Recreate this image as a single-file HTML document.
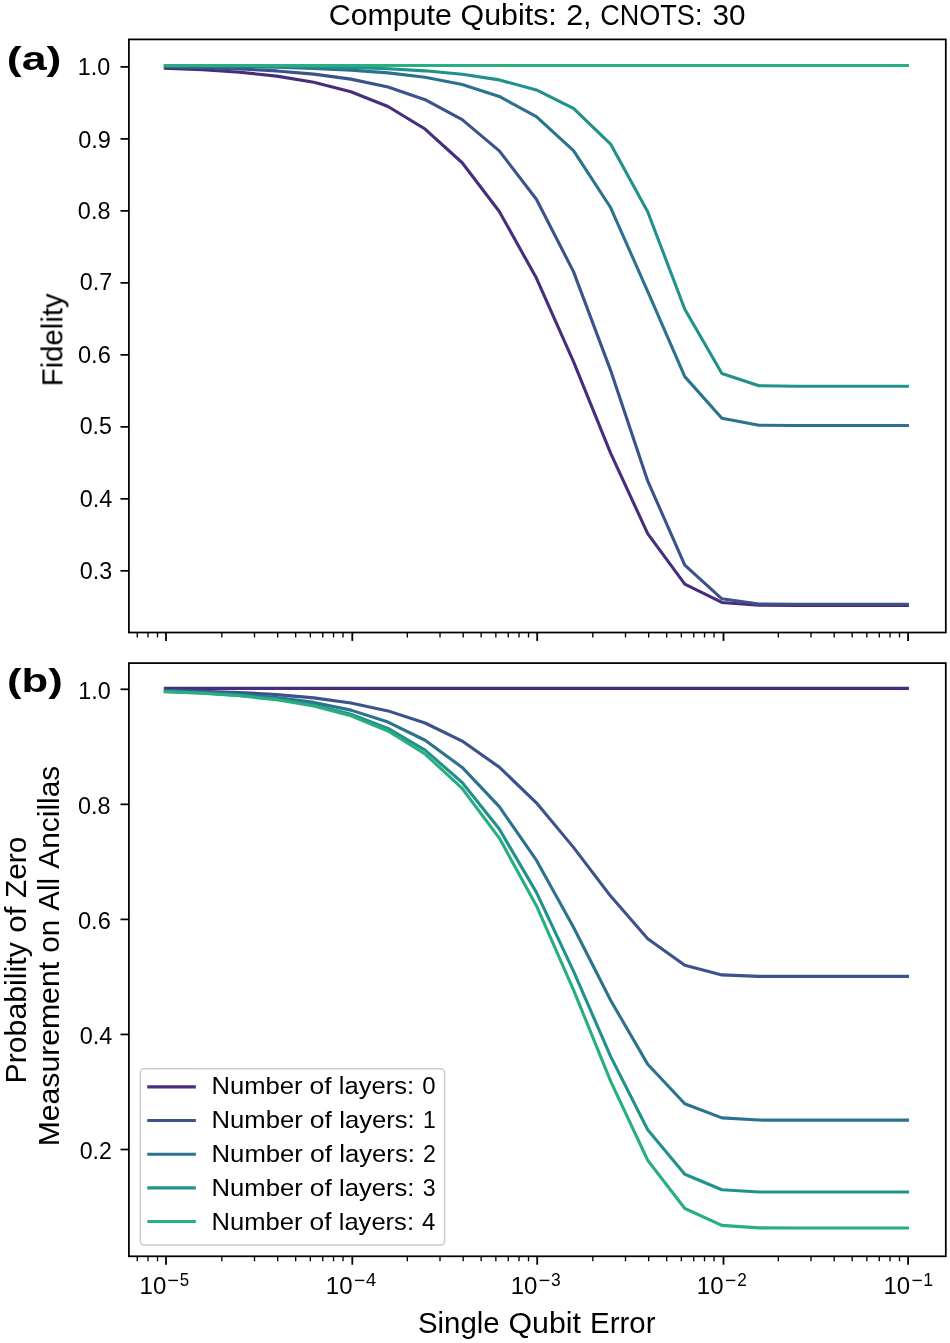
<!DOCTYPE html>
<html><head><meta charset="utf-8"><style>
html,body{margin:0;padding:0;background:#fff;width:950px;height:1343px;overflow:hidden}
svg{display:block}
</style></head><body>
<svg width="950" height="1343" viewBox="0 0 950 1343" font-family="Liberation Sans, sans-serif">
<rect width="950" height="1343" fill="#fff"/>
<path d="M165.40,68.18 L202.50,69.75 L239.60,72.21 L276.70,76.10 L313.80,82.21 L350.90,91.74 L388.00,106.50 L425.10,129.05 L462.20,162.76 L499.30,211.44 L536.40,278.03 L573.50,361.59 L610.60,453.06 L647.70,533.68 L684.80,584.11 L721.90,602.46 L759.00,605.31 L796.10,605.42 L833.20,605.42 L870.30,605.42 L907.40,605.42" fill="none" stroke="#472d7b" stroke-width="3.1" stroke-linejoin="round" stroke-linecap="square"/>
<path d="M165.40,66.86 L202.50,67.66 L239.60,68.92 L276.70,70.92 L313.80,74.09 L350.90,79.11 L388.00,87.06 L425.10,99.66 L462.20,119.57 L499.30,150.85 L536.40,199.29 L573.50,271.60 L610.60,370.35 L647.70,480.96 L684.80,565.06 L721.90,598.79 L759.00,604.07 L796.10,604.27 L833.20,604.27 L870.30,604.27 L907.40,604.27" fill="none" stroke="#3b528b" stroke-width="3.1" stroke-linejoin="round" stroke-linecap="square"/>
<path d="M165.40,65.96 L202.50,66.22 L239.60,66.65 L276.70,67.32 L313.80,68.39 L350.90,70.10 L388.00,72.85 L425.10,77.29 L462.20,84.52 L499.30,96.46 L536.40,116.53 L573.50,150.63 L610.60,207.51 L647.70,291.37 L684.80,376.61 L721.90,418.20 L759.00,425.18 L796.10,425.45 L833.20,425.45 L870.30,425.45 L907.40,425.45" fill="none" stroke="#2c728e" stroke-width="3.1" stroke-linejoin="round" stroke-linecap="square"/>
<path d="M165.40,65.70 L202.50,65.82 L239.60,66.01 L276.70,66.31 L313.80,66.79 L350.90,67.56 L388.00,68.80 L425.10,70.83 L462.20,74.18 L499.30,79.88 L536.40,89.91 L573.50,108.40 L610.60,144.11 L647.70,211.77 L684.80,309.19 L721.90,373.43 L759.00,385.72 L796.10,386.21 L833.20,386.22 L870.30,386.22 L907.40,386.22" fill="none" stroke="#21918c" stroke-width="3.1" stroke-linejoin="round" stroke-linecap="square"/>
<path d="M165.40,65.50 L202.50,65.50 L239.60,65.50 L276.70,65.50 L313.80,65.50 L350.90,65.50 L388.00,65.50 L425.10,65.50 L462.20,65.50 L499.30,65.50 L536.40,65.50 L573.50,65.50 L610.60,65.50 L647.70,65.50 L684.80,65.50 L721.90,65.50 L759.00,65.50 L796.10,65.50 L833.20,65.50 L870.30,65.50 L907.40,65.50" fill="none" stroke="#28ae80" stroke-width="3.1" stroke-linejoin="round" stroke-linecap="square"/>
<path d="M165.40,688.40 L202.50,688.40 L239.60,688.40 L276.70,688.40 L313.80,688.40 L350.90,688.40 L388.00,688.40 L425.10,688.40 L462.20,688.40 L499.30,688.40 L536.40,688.40 L573.50,688.40 L610.60,688.40 L647.70,688.40 L684.80,688.40 L721.90,688.40 L759.00,688.40 L796.10,688.40 L833.20,688.40 L870.30,688.40 L907.40,688.40" fill="none" stroke="#472d7b" stroke-width="3.1" stroke-linejoin="round" stroke-linecap="square"/>
<path d="M165.40,690.34 L202.50,691.18 L239.60,692.50 L276.70,694.59 L313.80,697.87 L350.90,702.98 L388.00,710.90 L425.10,723.00 L462.20,741.06 L499.30,767.14 L536.40,802.76 L573.50,847.38 L610.60,896.08 L647.70,938.80 L684.80,965.33 L721.90,974.89 L759.00,976.34 L796.10,976.40 L833.20,976.40 L870.30,976.40 L907.40,976.40" fill="none" stroke="#3b528b" stroke-width="3.1" stroke-linejoin="round" stroke-linecap="square"/>
<path d="M165.40,691.07 L202.50,692.33 L239.60,694.33 L276.70,697.47 L313.80,702.40 L350.90,710.11 L388.00,722.03 L425.10,740.24 L462.20,767.43 L499.30,806.65 L536.40,860.21 L573.50,927.24 L610.60,1000.27 L647.70,1064.20 L684.80,1103.76 L721.90,1117.92 L759.00,1120.07 L796.10,1120.15 L833.20,1120.15 L870.30,1120.15 L907.40,1120.15" fill="none" stroke="#2c728e" stroke-width="3.1" stroke-linejoin="round" stroke-linecap="square"/>
<path d="M165.40,691.49 L202.50,693.00 L239.60,695.38 L276.70,699.13 L313.80,705.02 L350.90,714.21 L388.00,728.43 L425.10,750.13 L462.20,782.48 L499.30,829.04 L536.40,892.39 L573.50,971.20 L610.60,1056.33 L647.70,1129.80 L684.80,1174.30 L721.90,1189.72 L759.00,1191.95 L796.10,1192.02 L833.20,1192.02 L870.30,1192.03 L907.40,1192.03" fill="none" stroke="#21918c" stroke-width="3.1" stroke-linejoin="round" stroke-linecap="square"/>
<path d="M165.40,691.65 L202.50,693.26 L239.60,695.79 L276.70,699.78 L313.80,706.04 L350.90,715.82 L388.00,730.94 L425.10,754.02 L462.20,788.46 L499.30,838.07 L536.40,905.63 L573.50,989.86 L610.60,1081.10 L647.70,1160.22 L684.80,1208.49 L721.90,1225.39 L759.00,1227.87 L796.10,1227.96 L833.20,1227.96 L870.30,1227.96 L907.40,1227.96" fill="none" stroke="#28ae80" stroke-width="3.1" stroke-linejoin="round" stroke-linecap="square"/>
<rect x="128.9" y="39.4" width="816.9" height="593.1" fill="none" stroke="#000" stroke-width="1.75" stroke-linejoin="miter"/>
<rect x="128.9" y="663.1" width="816.9" height="593.1999999999999" fill="none" stroke="#000" stroke-width="1.75" stroke-linejoin="miter"/>
<line x1="137.27" y1="632.5" x2="137.27" y2="637.5" stroke="#000" stroke-width="1.35"/>
<line x1="148.02" y1="632.5" x2="148.02" y2="637.5" stroke="#000" stroke-width="1.35"/>
<line x1="157.51" y1="632.5" x2="157.51" y2="637.5" stroke="#000" stroke-width="1.35"/>
<line x1="221.84" y1="632.5" x2="221.84" y2="637.5" stroke="#000" stroke-width="1.35"/>
<line x1="254.51" y1="632.5" x2="254.51" y2="637.5" stroke="#000" stroke-width="1.35"/>
<line x1="277.68" y1="632.5" x2="277.68" y2="637.5" stroke="#000" stroke-width="1.35"/>
<line x1="295.66" y1="632.5" x2="295.66" y2="637.5" stroke="#000" stroke-width="1.35"/>
<line x1="310.35" y1="632.5" x2="310.35" y2="637.5" stroke="#000" stroke-width="1.35"/>
<line x1="322.77" y1="632.5" x2="322.77" y2="637.5" stroke="#000" stroke-width="1.35"/>
<line x1="333.52" y1="632.5" x2="333.52" y2="637.5" stroke="#000" stroke-width="1.35"/>
<line x1="343.01" y1="632.5" x2="343.01" y2="637.5" stroke="#000" stroke-width="1.35"/>
<line x1="407.34" y1="632.5" x2="407.34" y2="637.5" stroke="#000" stroke-width="1.35"/>
<line x1="440.01" y1="632.5" x2="440.01" y2="637.5" stroke="#000" stroke-width="1.35"/>
<line x1="463.18" y1="632.5" x2="463.18" y2="637.5" stroke="#000" stroke-width="1.35"/>
<line x1="481.16" y1="632.5" x2="481.16" y2="637.5" stroke="#000" stroke-width="1.35"/>
<line x1="495.85" y1="632.5" x2="495.85" y2="637.5" stroke="#000" stroke-width="1.35"/>
<line x1="508.27" y1="632.5" x2="508.27" y2="637.5" stroke="#000" stroke-width="1.35"/>
<line x1="519.02" y1="632.5" x2="519.02" y2="637.5" stroke="#000" stroke-width="1.35"/>
<line x1="528.51" y1="632.5" x2="528.51" y2="637.5" stroke="#000" stroke-width="1.35"/>
<line x1="592.84" y1="632.5" x2="592.84" y2="637.5" stroke="#000" stroke-width="1.35"/>
<line x1="625.51" y1="632.5" x2="625.51" y2="637.5" stroke="#000" stroke-width="1.35"/>
<line x1="648.68" y1="632.5" x2="648.68" y2="637.5" stroke="#000" stroke-width="1.35"/>
<line x1="666.66" y1="632.5" x2="666.66" y2="637.5" stroke="#000" stroke-width="1.35"/>
<line x1="681.35" y1="632.5" x2="681.35" y2="637.5" stroke="#000" stroke-width="1.35"/>
<line x1="693.77" y1="632.5" x2="693.77" y2="637.5" stroke="#000" stroke-width="1.35"/>
<line x1="704.52" y1="632.5" x2="704.52" y2="637.5" stroke="#000" stroke-width="1.35"/>
<line x1="714.01" y1="632.5" x2="714.01" y2="637.5" stroke="#000" stroke-width="1.35"/>
<line x1="778.34" y1="632.5" x2="778.34" y2="637.5" stroke="#000" stroke-width="1.35"/>
<line x1="811.01" y1="632.5" x2="811.01" y2="637.5" stroke="#000" stroke-width="1.35"/>
<line x1="834.18" y1="632.5" x2="834.18" y2="637.5" stroke="#000" stroke-width="1.35"/>
<line x1="852.16" y1="632.5" x2="852.16" y2="637.5" stroke="#000" stroke-width="1.35"/>
<line x1="866.85" y1="632.5" x2="866.85" y2="637.5" stroke="#000" stroke-width="1.35"/>
<line x1="879.27" y1="632.5" x2="879.27" y2="637.5" stroke="#000" stroke-width="1.35"/>
<line x1="890.02" y1="632.5" x2="890.02" y2="637.5" stroke="#000" stroke-width="1.35"/>
<line x1="899.51" y1="632.5" x2="899.51" y2="637.5" stroke="#000" stroke-width="1.35"/>
<line x1="166.00" y1="632.5" x2="166.00" y2="640.9" stroke="#000" stroke-width="1.8"/>
<line x1="352.30" y1="632.5" x2="352.30" y2="640.9" stroke="#000" stroke-width="1.8"/>
<line x1="537.20" y1="632.5" x2="537.20" y2="640.9" stroke="#000" stroke-width="1.8"/>
<line x1="723.50" y1="632.5" x2="723.50" y2="640.9" stroke="#000" stroke-width="1.8"/>
<line x1="908.10" y1="632.5" x2="908.10" y2="640.9" stroke="#000" stroke-width="1.8"/>
<line x1="137.27" y1="1256.3" x2="137.27" y2="1261.3" stroke="#000" stroke-width="1.35"/>
<line x1="148.02" y1="1256.3" x2="148.02" y2="1261.3" stroke="#000" stroke-width="1.35"/>
<line x1="157.51" y1="1256.3" x2="157.51" y2="1261.3" stroke="#000" stroke-width="1.35"/>
<line x1="221.84" y1="1256.3" x2="221.84" y2="1261.3" stroke="#000" stroke-width="1.35"/>
<line x1="254.51" y1="1256.3" x2="254.51" y2="1261.3" stroke="#000" stroke-width="1.35"/>
<line x1="277.68" y1="1256.3" x2="277.68" y2="1261.3" stroke="#000" stroke-width="1.35"/>
<line x1="295.66" y1="1256.3" x2="295.66" y2="1261.3" stroke="#000" stroke-width="1.35"/>
<line x1="310.35" y1="1256.3" x2="310.35" y2="1261.3" stroke="#000" stroke-width="1.35"/>
<line x1="322.77" y1="1256.3" x2="322.77" y2="1261.3" stroke="#000" stroke-width="1.35"/>
<line x1="333.52" y1="1256.3" x2="333.52" y2="1261.3" stroke="#000" stroke-width="1.35"/>
<line x1="343.01" y1="1256.3" x2="343.01" y2="1261.3" stroke="#000" stroke-width="1.35"/>
<line x1="407.34" y1="1256.3" x2="407.34" y2="1261.3" stroke="#000" stroke-width="1.35"/>
<line x1="440.01" y1="1256.3" x2="440.01" y2="1261.3" stroke="#000" stroke-width="1.35"/>
<line x1="463.18" y1="1256.3" x2="463.18" y2="1261.3" stroke="#000" stroke-width="1.35"/>
<line x1="481.16" y1="1256.3" x2="481.16" y2="1261.3" stroke="#000" stroke-width="1.35"/>
<line x1="495.85" y1="1256.3" x2="495.85" y2="1261.3" stroke="#000" stroke-width="1.35"/>
<line x1="508.27" y1="1256.3" x2="508.27" y2="1261.3" stroke="#000" stroke-width="1.35"/>
<line x1="519.02" y1="1256.3" x2="519.02" y2="1261.3" stroke="#000" stroke-width="1.35"/>
<line x1="528.51" y1="1256.3" x2="528.51" y2="1261.3" stroke="#000" stroke-width="1.35"/>
<line x1="592.84" y1="1256.3" x2="592.84" y2="1261.3" stroke="#000" stroke-width="1.35"/>
<line x1="625.51" y1="1256.3" x2="625.51" y2="1261.3" stroke="#000" stroke-width="1.35"/>
<line x1="648.68" y1="1256.3" x2="648.68" y2="1261.3" stroke="#000" stroke-width="1.35"/>
<line x1="666.66" y1="1256.3" x2="666.66" y2="1261.3" stroke="#000" stroke-width="1.35"/>
<line x1="681.35" y1="1256.3" x2="681.35" y2="1261.3" stroke="#000" stroke-width="1.35"/>
<line x1="693.77" y1="1256.3" x2="693.77" y2="1261.3" stroke="#000" stroke-width="1.35"/>
<line x1="704.52" y1="1256.3" x2="704.52" y2="1261.3" stroke="#000" stroke-width="1.35"/>
<line x1="714.01" y1="1256.3" x2="714.01" y2="1261.3" stroke="#000" stroke-width="1.35"/>
<line x1="778.34" y1="1256.3" x2="778.34" y2="1261.3" stroke="#000" stroke-width="1.35"/>
<line x1="811.01" y1="1256.3" x2="811.01" y2="1261.3" stroke="#000" stroke-width="1.35"/>
<line x1="834.18" y1="1256.3" x2="834.18" y2="1261.3" stroke="#000" stroke-width="1.35"/>
<line x1="852.16" y1="1256.3" x2="852.16" y2="1261.3" stroke="#000" stroke-width="1.35"/>
<line x1="866.85" y1="1256.3" x2="866.85" y2="1261.3" stroke="#000" stroke-width="1.35"/>
<line x1="879.27" y1="1256.3" x2="879.27" y2="1261.3" stroke="#000" stroke-width="1.35"/>
<line x1="890.02" y1="1256.3" x2="890.02" y2="1261.3" stroke="#000" stroke-width="1.35"/>
<line x1="899.51" y1="1256.3" x2="899.51" y2="1261.3" stroke="#000" stroke-width="1.35"/>
<line x1="166.00" y1="1256.3" x2="166.00" y2="1264.7" stroke="#000" stroke-width="1.8"/>
<line x1="352.30" y1="1256.3" x2="352.30" y2="1264.7" stroke="#000" stroke-width="1.8"/>
<line x1="537.20" y1="1256.3" x2="537.20" y2="1264.7" stroke="#000" stroke-width="1.8"/>
<line x1="723.50" y1="1256.3" x2="723.50" y2="1264.7" stroke="#000" stroke-width="1.8"/>
<line x1="908.10" y1="1256.3" x2="908.10" y2="1264.7" stroke="#000" stroke-width="1.8"/>
<g opacity="0.999">
<line x1="120.50" y1="66.90" x2="128.9" y2="66.90" stroke="#000" stroke-width="1.75"/>
<text transform="translate(77.74,74.53) scale(1.0086,1)" font-size="23.20" fill="#000">1.0</text>
<line x1="120.50" y1="138.89" x2="128.9" y2="138.89" stroke="#000" stroke-width="1.75"/>
<text transform="translate(78.26,147.52) scale(1.0133,1)" font-size="23.20" fill="#000">0.9</text>
<line x1="120.50" y1="210.88" x2="128.9" y2="210.88" stroke="#000" stroke-width="1.75"/>
<text transform="translate(77.86,218.94) scale(1.0108,1)" font-size="23.20" fill="#000">0.8</text>
<line x1="120.50" y1="282.87" x2="128.9" y2="282.87" stroke="#000" stroke-width="1.75"/>
<text transform="translate(79.66,290.20) scale(1.0067,1)" font-size="23.20" fill="#000">0.7</text>
<line x1="120.50" y1="354.86" x2="128.9" y2="354.86" stroke="#000" stroke-width="1.75"/>
<text transform="translate(77.95,363.16) scale(1.0182,1)" font-size="23.20" fill="#000">0.6</text>
<line x1="120.50" y1="426.85" x2="128.9" y2="426.85" stroke="#000" stroke-width="1.75"/>
<text transform="translate(79.67,434.40) scale(0.9977,1)" font-size="23.20" fill="#000">0.5</text>
<line x1="120.50" y1="498.84" x2="128.9" y2="498.84" stroke="#000" stroke-width="1.75"/>
<text transform="translate(79.66,507.25) scale(1.0115,1)" font-size="23.20" fill="#000">0.4</text>
<line x1="120.50" y1="570.83" x2="128.9" y2="570.83" stroke="#000" stroke-width="1.75"/>
<text transform="translate(79.76,578.53) scale(1.0064,1)" font-size="23.20" fill="#000">0.3</text>
<line x1="120.50" y1="689.30" x2="128.9" y2="689.30" stroke="#000" stroke-width="1.75"/>
<text transform="translate(78.24,698.52) scale(1.0086,1)" font-size="23.20" fill="#000">1.0</text>
<line x1="120.50" y1="804.35" x2="128.9" y2="804.35" stroke="#000" stroke-width="1.75"/>
<text transform="translate(77.96,813.55) scale(1.0108,1)" font-size="23.20" fill="#000">0.8</text>
<line x1="120.50" y1="919.40" x2="128.9" y2="919.40" stroke="#000" stroke-width="1.75"/>
<text transform="translate(77.95,928.59) scale(1.0182,1)" font-size="23.20" fill="#000">0.6</text>
<line x1="120.50" y1="1034.45" x2="128.9" y2="1034.45" stroke="#000" stroke-width="1.75"/>
<text transform="translate(79.66,1043.77) scale(1.0115,1)" font-size="23.20" fill="#000">0.4</text>
<line x1="120.50" y1="1149.50" x2="128.9" y2="1149.50" stroke="#000" stroke-width="1.75"/>
<text transform="translate(79.67,1158.77) scale(0.9962,1)" font-size="23.20" fill="#000">0.2</text>
<text transform="translate(139.60,1294.30) scale(1.0398,1)" font-size="23.10" fill="#000">10</text>
<rect x="168.30" y="1279.70" width="9.70" height="1.4" fill="#000"/>
<text transform="translate(179.83,1286.00) scale(0.9223,1)" font-size="18.26" fill="#000">5</text>
<text transform="translate(325.80,1294.30) scale(1.0398,1)" font-size="23.10" fill="#000">10</text>
<rect x="355.00" y="1279.70" width="9.30" height="1.4" fill="#000"/>
<text transform="translate(365.94,1286.00) scale(1.0076,1)" font-size="18.26" fill="#000">4</text>
<text transform="translate(510.70,1294.30) scale(1.0398,1)" font-size="23.10" fill="#000">10</text>
<rect x="539.60" y="1279.70" width="9.70" height="1.4" fill="#000"/>
<text transform="translate(551.10,1286.00) scale(0.9554,1)" font-size="18.26" fill="#000">3</text>
<text transform="translate(696.80,1294.30) scale(1.0398,1)" font-size="23.10" fill="#000">10</text>
<rect x="726.00" y="1279.70" width="9.30" height="1.4" fill="#000"/>
<text transform="translate(737.34,1286.00) scale(0.9388,1)" font-size="18.26" fill="#000">2</text>
<text transform="translate(883.40,1294.30) scale(1.0398,1)" font-size="23.10" fill="#000">10</text>
<rect x="912.50" y="1279.70" width="9.30" height="1.4" fill="#000"/>
<text transform="translate(923.37,1286.00) scale(0.9679,1)" font-size="18.26" fill="#000">1</text>
<text transform="translate(328.78,25.20) scale(1.0461,1)" font-size="29.00" fill="#000">Compute</text>
<text transform="translate(460.59,25.20) scale(1.0477,1)" font-size="29.00" fill="#000">Qubits:</text>
<text transform="translate(566.20,25.20) scale(1.0486,1)" font-size="29.00" fill="#000">2,</text>
<text transform="translate(600.24,25.20) scale(0.9328,1)" font-size="29.00" fill="#000">CNOTS:</text>
<text transform="translate(712.52,25.20) scale(1.0211,1)" font-size="29.00" fill="#000">30</text>
<text transform="translate(417.88,1332.60) scale(1.0146,1)" font-size="29.00" fill="#000">Single</text>
<text transform="translate(508.43,1332.60) scale(1.0467,1)" font-size="29.00" fill="#000">Qubit</text>
<text transform="translate(590.08,1332.60) scale(1.0167,1)" font-size="29.00" fill="#000">Error</text>
<text transform="translate(62.40,386.35) rotate(-90) scale(1.0127,1)" font-size="29.00" fill="#000">Fidelity</text>
<text transform="translate(25.60,1083.52) rotate(-90) scale(1.0443,1)" font-size="29.00" fill="#000">Probability</text>
<text transform="translate(25.60,932.65) rotate(-90) scale(1.0836,1)" font-size="29.00" fill="#000">of</text>
<text transform="translate(25.60,898.05) rotate(-90) scale(1.0293,1)" font-size="29.00" fill="#000">Zero</text>
<text transform="translate(59.40,1146.31) rotate(-90) scale(1.0401,1)" font-size="29.00" fill="#000">Measurement</text>
<text transform="translate(59.40,952.65) rotate(-90) scale(1.0227,1)" font-size="29.00" fill="#000">on</text>
<text transform="translate(59.40,910.74) rotate(-90) scale(1.0169,1)" font-size="29.00" fill="#000">All</text>
<text transform="translate(59.40,868.76) rotate(-90) scale(1.0312,1)" font-size="29.00" fill="#000">Ancillas</text>
<text transform="translate(6.86,69.50) scale(1.3150,1)" font-size="34.00" font-weight="bold" fill="#000">(a)</text>
<text transform="translate(6.91,692.20) scale(1.2861,1)" font-size="34.00" font-weight="bold" fill="#000">(b)</text>
<rect x="140.3" y="1068.8" width="304.3" height="176.2" rx="3.8" ry="3.8" fill="#fff" fill-opacity="0.8" stroke="#cccccc" stroke-width="1.5"/>
<line x1="148.8" y1="1086.90" x2="194.3" y2="1086.90" stroke="#472d7b" stroke-width="3.1" stroke-linecap="square"/>
<text transform="translate(211.55,1094.00) scale(1.0946,1)" font-size="23.40" fill="#000">Number</text>
<text transform="translate(309.60,1094.00) scale(1.1281,1)" font-size="23.40" fill="#000">of</text>
<text transform="translate(338.86,1094.00) scale(1.0932,1)" font-size="23.40" fill="#000">layers:</text>
<text transform="translate(422.25,1094.00) scale(1.0254,1)" font-size="23.40" fill="#000">0</text>
<line x1="148.8" y1="1120.55" x2="194.3" y2="1120.55" stroke="#3b528b" stroke-width="3.1" stroke-linecap="square"/>
<text transform="translate(211.55,1127.90) scale(1.0975,1)" font-size="23.40" fill="#000">Number</text>
<text transform="translate(309.86,1127.90) scale(1.1311,1)" font-size="23.40" fill="#000">of</text>
<text transform="translate(339.19,1127.90) scale(1.0961,1)" font-size="23.40" fill="#000">layers:</text>
<text transform="translate(423.05,1127.90) scale(0.9780,1)" font-size="23.40" fill="#000">1</text>
<line x1="148.8" y1="1154.20" x2="194.3" y2="1154.20" stroke="#2c728e" stroke-width="3.1" stroke-linecap="square"/>
<text transform="translate(211.54,1161.80) scale(1.0984,1)" font-size="23.40" fill="#000">Number</text>
<text transform="translate(309.94,1161.80) scale(1.1320,1)" font-size="23.40" fill="#000">of</text>
<text transform="translate(339.30,1161.80) scale(1.0970,1)" font-size="23.40" fill="#000">layers:</text>
<text transform="translate(422.95,1161.80) scale(0.9868,1)" font-size="23.40" fill="#000">2</text>
<line x1="148.8" y1="1187.85" x2="194.3" y2="1187.85" stroke="#21918c" stroke-width="3.1" stroke-linecap="square"/>
<text transform="translate(211.55,1195.70) scale(1.0962,1)" font-size="23.40" fill="#000">Number</text>
<text transform="translate(309.74,1195.70) scale(1.1297,1)" font-size="23.40" fill="#000">of</text>
<text transform="translate(339.04,1195.70) scale(1.0947,1)" font-size="23.40" fill="#000">layers:</text>
<text transform="translate(422.81,1195.70) scale(0.9884,1)" font-size="23.40" fill="#000">3</text>
<line x1="148.8" y1="1221.50" x2="194.3" y2="1221.50" stroke="#28ae80" stroke-width="3.1" stroke-linecap="square"/>
<text transform="translate(211.55,1229.60) scale(1.0935,1)" font-size="23.40" fill="#000">Number</text>
<text transform="translate(309.50,1229.60) scale(1.1269,1)" font-size="23.40" fill="#000">of</text>
<text transform="translate(338.73,1229.60) scale(1.0920,1)" font-size="23.40" fill="#000">layers:</text>
<text transform="translate(422.01,1229.60) scale(1.0252,1)" font-size="23.40" fill="#000">4</text>
</g></svg>
</body></html>
